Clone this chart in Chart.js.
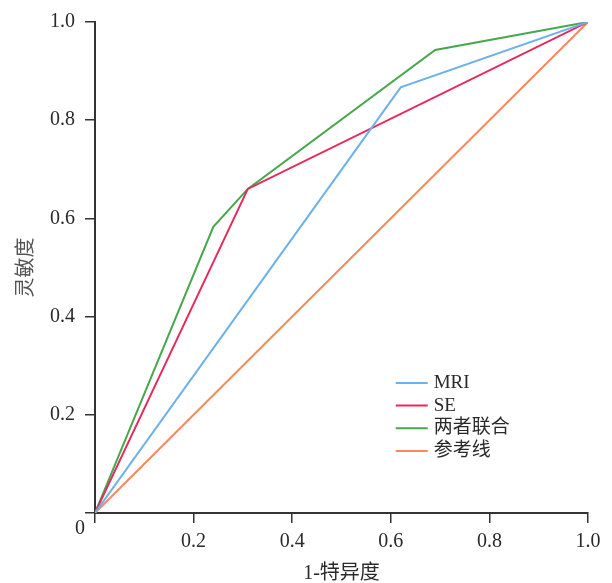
<!DOCTYPE html>
<html>
<head>
<meta charset="utf-8">
<script src="https://cdn.jsdelivr.net/npm/chart.js@4/dist/chart.umd.min.js"></script>
<style>
  html, body { margin: 0; padding: 0; background: #fff; }
  #box { width: 612px; height: 583px; }
</style>
</head>
<body>
<div id="box"><canvas id="roc"></canvas></div>
<script>
// ROC curves: 1-specificity (x) vs sensitivity (y)
var seriesNames = ["MRI", "SE", "两者联合", "参考线"];
var seriesColors = ["#6cb2e8", "#e8285a", "#45a84a", "#f58a5c"];

var mriX = [0, 0.62, 1];
var mriY = [0, 0.867, 1];
var seX = [0, 0.31, 1];
var seY = [0, 0.66, 1];
var comboX = [0, 0.24, 0.31, 0.69, 1];
var comboY = [0, 0.583, 0.66, 0.943, 1];
var refX = [0, 1];
var refY = [0, 1];

var tickValues = [0.2, 0.4, 0.6, 0.8, 1.0];

var serif = "'Liberation Serif', 'Noto Sans CJK SC', serif";
var textColor = "#2a2a2a";

function toPoints(xs, ys) {
  var pts = [];
  for (var i = 0; i < xs.length; i++) pts.push({ x: xs[i], y: ys[i] });
  return pts;
}

var allX = [mriX, seX, comboX, refX];
var allY = [mriY, seY, comboY, refY];
var datasets = [];
for (var s = 0; s < seriesNames.length; s++) {
  datasets.push({
    label: seriesNames[s],
    data: toPoints(allX[s], allY[s]),
    borderColor: seriesColors[s],
    backgroundColor: seriesColors[s],
    borderWidth: 2,
    pointRadius: 0,
    tension: 0,
    fill: false
  });
}

// legend drawn inside the plot area, lower right
var innerLegend = {
  id: "innerLegend",
  afterDraw: function(chart) {
    var ctx = chart.ctx;
    var area = chart.chartArea;
    var lx = chart.scales.x.getPixelForValue(0.61);
    var ly = chart.scales.y.getPixelForValue(0.265);
    ctx.save();
    ctx.font = "19px " + serif;
    ctx.textBaseline = "middle";
    ctx.textAlign = "left";
    for (var i = 0; i < seriesNames.length; i++) {
      var y = ly + i * 22.7;
      ctx.strokeStyle = seriesColors[i];
      ctx.lineWidth = 2;
      ctx.beginPath();
      ctx.moveTo(lx, y);
      ctx.lineTo(lx + 32, y);
      ctx.stroke();
      ctx.fillStyle = textColor;
      ctx.fillText(seriesNames[i], lx + 38, y);
    }
    // shared origin label
    ctx.font = "20px " + serif;
    ctx.textAlign = "center";
    ctx.fillText("0", area.left - 15, area.bottom + 16);
    ctx.restore();
  }
};

new Chart(document.getElementById("roc"), {
  type: "line",
  data: { datasets: datasets },
  plugins: [innerLegend],
  options: {
    responsive: true,
    maintainAspectRatio: false,
    animation: false,
    layout: { padding: { top: 20, right: 24, left: 0, bottom: 0 } },
    plugins: { legend: { display: false }, tooltip: { enabled: false } },
    scales: {
      x: {
        type: "linear",
        min: 0,
        max: 1,
        afterFit: function(scale) { scale.height = 70; },
        afterBuildTicks: function(scale) {
          scale.ticks = [{ value: 0 }].concat(tickValues.map(function(v) { return { value: v }; }));
        },
        ticks: {
          color: textColor,
          font: { family: serif, size: 20 },
          padding: 7,
          maxRotation: 0,
          callback: function(v) { return v === 0 ? "" : v.toFixed(1); }
        },
        grid: { drawOnChartArea: false, drawTicks: true, tickLength: 10, color: "#333", lineWidth: 1.5 },
        border: { display: true, color: "#333", width: 2 },
        title: {
          display: true,
          text: "1-特异度",
          color: textColor,
          font: { family: serif, size: 20 },
          padding: { top: 0, bottom: -3 }
        }
      },
      y: {
        type: "linear",
        min: 0,
        max: 1,
        afterFit: function(scale) { scale.width = 95; },
        afterBuildTicks: function(scale) {
          scale.ticks = [{ value: 0 }].concat(tickValues.map(function(v) { return { value: v }; }));
        },
        ticks: {
          color: textColor,
          font: { family: serif, size: 20 },
          padding: 10,
          callback: function(v) { return v === 0 ? "" : v.toFixed(1); }
        },
        grid: { drawOnChartArea: false, drawTicks: true, tickLength: 10, color: "#333", lineWidth: 1.5 },
        border: { display: true, color: "#333", width: 2 },
        title: {
          display: true,
          text: "灵敏度",
          color: "#555",
          font: { family: serif, size: 20 },
          padding: { top: 15, bottom: 0 }
        }
      }
    }
  }
});
</script>
</body>
</html>
